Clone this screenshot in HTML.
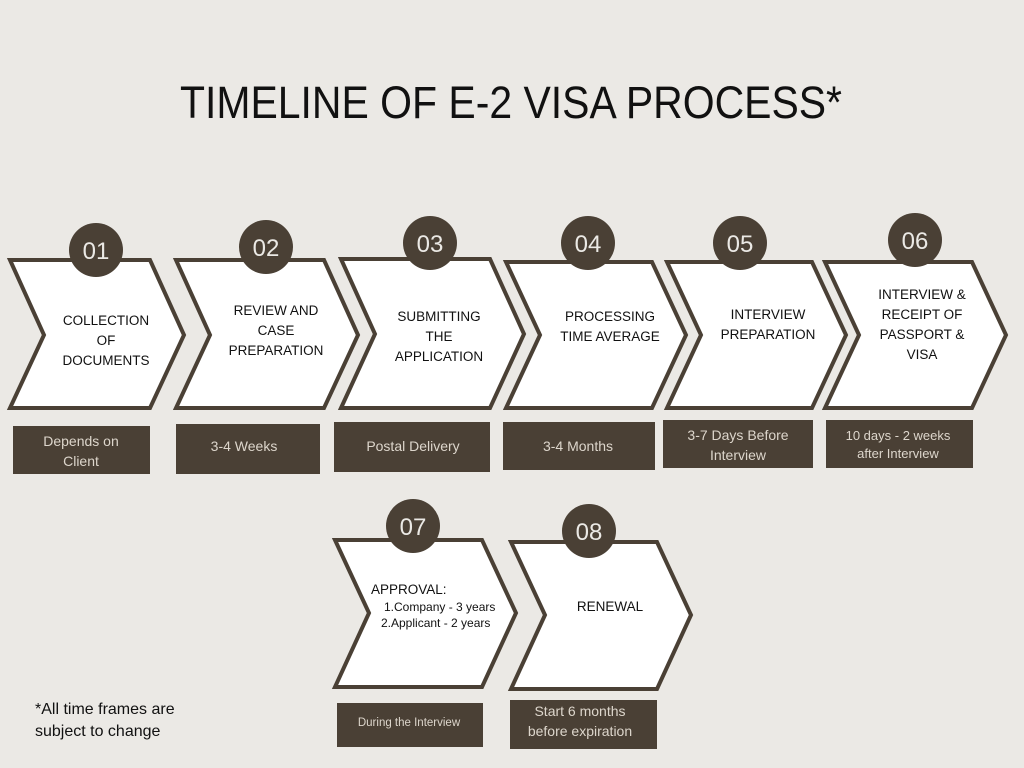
<!DOCTYPE html>
<html><head><meta charset="utf-8"><style>
html,body{margin:0;padding:0;background:#ebe9e5;}
svg{display:block;font-family:"Liberation Sans",sans-serif;}
.sh{fill:#fff;stroke:#4a4035;stroke-width:4;stroke-linejoin:miter;}
.c{fill:#4a4035;}
.n{fill:#ebe9e5;font-size:24px;text-anchor:middle;}
.t{fill:#111;font-size:13.5px;text-anchor:middle;}
.b{fill:#4a4035;}
.bt{fill:#ddd6cc;font-size:14px;text-anchor:middle;}
</style></head><body>
<svg width="1024" height="768" viewBox="0 0 1024 768">
<rect width="1024" height="768" fill="#ebe9e5"/>
<text x="511" y="118" font-size="45" text-anchor="middle" fill="#111" textLength="662" lengthAdjust="spacingAndGlyphs">TIMELINE OF E-2 VISA PROCESS*</text>

<path class="sh" d="M10,260 L150,260 L184,335 L150,408 L10,408 L44,335Z"/>
<path class="sh" d="M176,260 L324,260 L358,335 L324,408 L176,408 L210,335Z"/>
<path class="sh" d="M341,259 L490,259 L524,334 L490,408 L341,408 L375,334Z"/>
<path class="sh" d="M506,262 L652,262 L686,335 L652,408 L506,408 L540,335Z"/>
<path class="sh" d="M667,262 L812,262 L846,335 L812,408 L667,408 L701,335Z"/>
<path class="sh" d="M825,262 L972,262 L1006,335 L972,408 L825,408 L859,335Z"/>
<path class="sh" d="M335,540 L482,540 L516,613 L482,687 L335,687 L369,613Z"/>
<path class="sh" d="M511,542 L657,542 L691,615 L657,689 L511,689 L545,615Z"/>

<circle class="c" cx="96" cy="250" r="27"/><text class="n" x="96" y="259">01</text>
<circle class="c" cx="266" cy="247" r="27"/><text class="n" x="266" y="256">02</text>
<circle class="c" cx="430" cy="243" r="27"/><text class="n" x="430" y="252">03</text>
<circle class="c" cx="588" cy="243" r="27"/><text class="n" x="588" y="252">04</text>
<circle class="c" cx="740" cy="243" r="27"/><text class="n" x="740" y="252">05</text>
<circle class="c" cx="915" cy="240" r="27"/><text class="n" x="915" y="249">06</text>
<circle class="c" cx="413" cy="526" r="27"/><text class="n" x="413" y="535">07</text>
<circle class="c" cx="589" cy="531" r="27"/><text class="n" x="589" y="540">08</text>

<text class="t" x="106" y="325">COLLECTION</text><text class="t" x="106" y="345">OF</text><text class="t" x="106" y="365">DOCUMENTS</text>
<text class="t" x="276" y="315">REVIEW AND</text><text class="t" x="276" y="335">CASE</text><text class="t" x="276" y="355">PREPARATION</text>
<text class="t" x="439" y="321">SUBMITTING</text><text class="t" x="439" y="341">THE</text><text class="t" x="439" y="361">APPLICATION</text>
<text class="t" x="610" y="321">PROCESSING</text><text class="t" x="610" y="341">TIME AVERAGE</text>
<text class="t" x="768" y="319">INTERVIEW</text><text class="t" x="768" y="339">PREPARATION</text>
<text class="t" x="922" y="299">INTERVIEW &amp;</text><text class="t" x="922" y="319">RECEIPT OF</text><text class="t" x="922" y="339">PASSPORT &amp;</text><text class="t" x="922" y="359">VISA</text>
<text class="t" x="371" y="594" style="text-anchor:start">APPROVAL:</text>
<text class="t" x="384" y="611" style="text-anchor:start;font-size:12px">1.Company - 3 years</text>
<text class="t" x="381" y="627" style="text-anchor:start;font-size:12px">2.Applicant - 2 years</text>
<text class="t" x="610" y="611">RENEWAL</text>

<rect class="b" x="13" y="426" width="137" height="48"/><text class="bt" x="81" y="446">Depends on</text><text class="bt" x="81" y="466">Client</text>
<rect class="b" x="176" y="424" width="144" height="50"/><text class="bt" x="244" y="451">3-4 Weeks</text>
<rect class="b" x="334" y="422" width="156" height="50"/><text class="bt" x="413" y="451">Postal Delivery</text>
<rect class="b" x="503" y="422" width="152" height="48"/><text class="bt" x="578" y="451">3-4 Months</text>
<rect class="b" x="663" y="420" width="150" height="48"/><text class="bt" x="738" y="440">3-7 Days Before</text><text class="bt" x="738" y="460">Interview</text>
<rect class="b" x="826" y="420" width="147" height="48"/><text class="bt" x="898" y="440" style="font-size:13px">10 days - 2 weeks</text><text class="bt" x="898" y="458" style="font-size:13px">after Interview</text>
<rect class="b" x="337" y="703" width="146" height="44"/><text class="bt" x="409" y="726" style="font-size:11.5px">During the Interview</text>
<rect class="b" x="510" y="700" width="147" height="49"/><text class="bt" x="580" y="716">Start 6 months</text><text class="bt" x="580" y="736">before expiration</text>

<text x="35" y="714" font-size="16" fill="#111">*All time frames are</text>
<text x="35" y="736" font-size="16" fill="#111">subject to change</text>
</svg>
</body></html>
